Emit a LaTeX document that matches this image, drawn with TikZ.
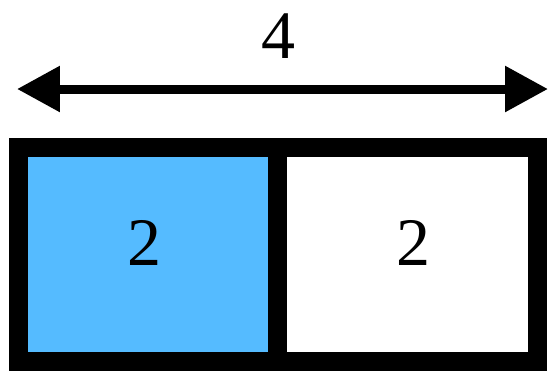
\documentclass[tikz,border=0pt]{standalone}
\usepackage{fontspec}
\setmainfont{Liberation Serif}
\usepackage{xcolor}
\usetikzlibrary{
  positioning,
  arrows.meta
}
\definecolor{cellblue}{RGB}{85,187,255}

\begin{document}
\begin{tikzpicture}[
  x=0.02cm,
  y=-0.02cm,
  font=\fontsize{38.7}{40}\selectfont,
  cell/.style={
    rectangle,
    draw=black,
    line width=0.38cm,
    inner sep=0pt,
    minimum width=5.19cm,
    minimum height=4.28cm
  },
  num/.style={
    inner sep=0pt,
    text=black
  },
  dimline/.style={
    {Triangle[length=0.86cm,width=0.88cm]}-{Triangle[length=0.86cm,width=0.88cm]},
    line width=0.18cm,
    draw=black
  }
]
\useasboundingbox (0,0) rectangle (549,370);

% Dimension arrow
\coordinate (dimleft) at (17,89);
\coordinate (dimright) at (548,89);
\draw[dimline] (dimleft) -- (dimright);
\node[num] (total) at (278,36) {4};

% Cells
\node[cell, fill=cellblue] (lcell) at (148.25,254.5) {};
\node[cell, fill=white] (rcell) at (407.5,254.5) {};

% Cell labels
\node[num] (lnum) at (144,243) {2};
\node[num] (rnum) at (413,243) {2};

\end{tikzpicture}
\end{document}
